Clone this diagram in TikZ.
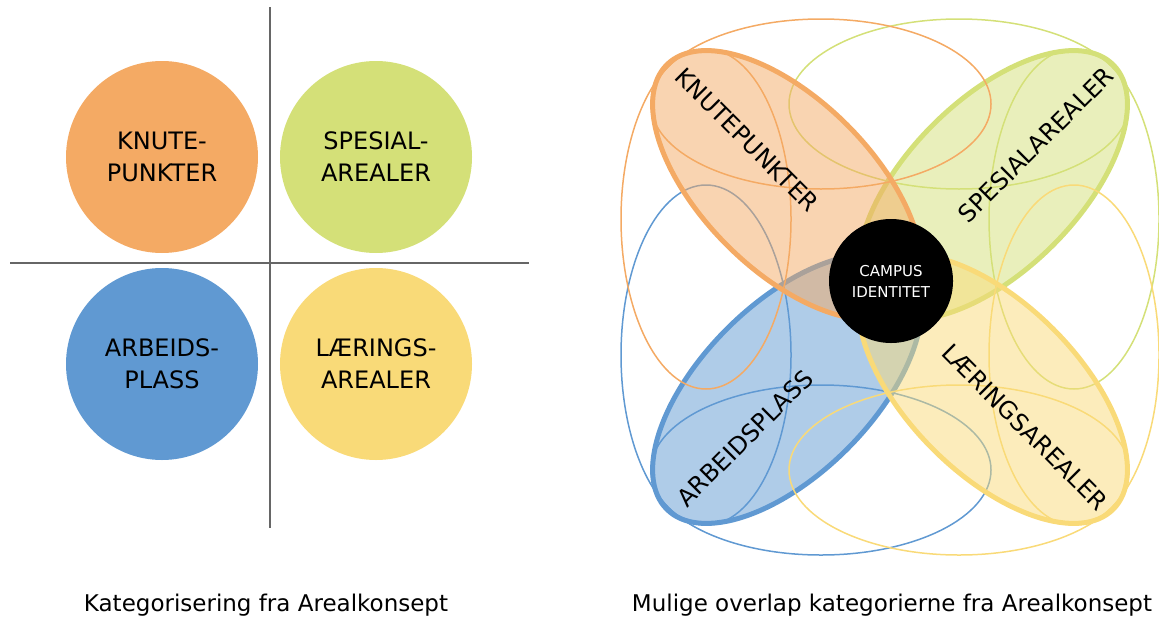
\documentclass[tikz,border=0pt]{standalone}
\usepackage{fontspec}
\setmainfont{DejaVu Sans}
\usepackage{tikz}
\usetikzlibrary{positioning}

\definecolor{knute}{RGB}{244,170,100}
\definecolor{spesial}{RGB}{212,224,120}
\definecolor{arbeid}{RGB}{96,153,210}
\definecolor{laering}{RGB}{249,218,120}

\begin{document}
\begin{tikzpicture}[%
    x=0.5pt,
    y=-0.5pt,
    catcircle/.style={%
      circle,
      minimum size=96pt,
      inner sep=0pt,
      align=center,
      font=\fontsize{12}{16}\selectfont
    },
    petal/.style={%
      draw=#1,
      fill=#1,
      fill opacity=0.5,
      line width=2.5pt
    },
    ring/.style={%
      draw=#1,
      line width=0.75pt
    },
    petallabel/.style={%
      font=\fontsize{12}{14}\selectfont
    },
    caption/.style={%
      font=\fontsize{11.5}{14}\selectfont
    }
  ]
    \useasboundingbox (0,0) rectangle (1159,621);

    % left: the four categories
    \coordinate (vtop) at (270,7);
    \coordinate (vbot) at (270,528);
    \coordinate (hleft) at (10,263);
    \coordinate (hright) at (529,263);
    \draw[black!60, line width=0.75pt] (vtop) -- (vbot);
    \draw[black!60, line width=0.75pt] (hleft) -- (hright);

    \node[catcircle, fill=knute]   (knutec)   at (162,157) {KNUTE-\\PUNKTER};
    \node[catcircle, fill=spesial] (spesialc) at (376,157) {SPESIAL-\\AREALER};
    \node[catcircle, fill=arbeid]  (arbeidc)  at (162,364) {ARBEIDS-\\PLASS};
    \node[catcircle, fill=laering] (laeringc) at (376,364) {LÆRINGS-\\AREALER};

    % right: overlaps
    \draw[petal=arbeid, rotate around={45:(787,389)}] (787,389) ellipse [x radius=170, y radius=85];
    \draw[ring=arbeid] (706,355) ellipse [x radius=85, y radius=170];
    \draw[ring=arbeid] (821,470) ellipse [x radius=170, y radius=85];

    \draw[petal=spesial, rotate around={45:(993,185)}] (993,185) ellipse [x radius=170, y radius=85];
    \draw[ring=spesial] (1074,219) ellipse [x radius=85, y radius=170];
    \draw[ring=spesial] (959,104) ellipse [x radius=170, y radius=85];

    \draw[petal=knute, rotate around={-45:(787,185)}] (787,185) ellipse [x radius=170, y radius=85];
    \draw[ring=knute] (706,219) ellipse [x radius=85, y radius=170];
    \draw[ring=knute] (821,104) ellipse [x radius=170, y radius=85];

    \draw[petal=laering, rotate around={-45:(993,389)}] (993,389) ellipse [x radius=170, y radius=85];
    \draw[ring=laering] (1074,355) ellipse [x radius=85, y radius=170];
    \draw[ring=laering] (959,470) ellipse [x radius=170, y radius=85];

    \node[petallabel, rotate=-45] (knutel)   at (747,140)  {KNUTEPUNKTER};
    \node[petallabel, rotate=45]  (spesiall) at (1036,145) {SPESIALAREALER};
    \node[petallabel, rotate=45]  (arbeidl)  at (745,438)  {ARBEIDSPLASS};
    \node[petallabel, rotate=-45] (laeringl) at (1025,427) {LÆRINGSAREALER};

    \node[circle, fill=black, text=white, minimum size=62pt, inner sep=0pt,
          align=center, font=\fontsize{7.5}{10.5}\selectfont] (campus) at (891,281) {CAMPUS\\IDENTITET};

    \node[caption] (leftcap)  at (266,605) {Kategorisering fra Arealkonsept};
    \node[caption] (rightcap) at (892,605) {Mulige overlap kategorierne fra Arealkonsept};
  \end{tikzpicture}
\end{document}
